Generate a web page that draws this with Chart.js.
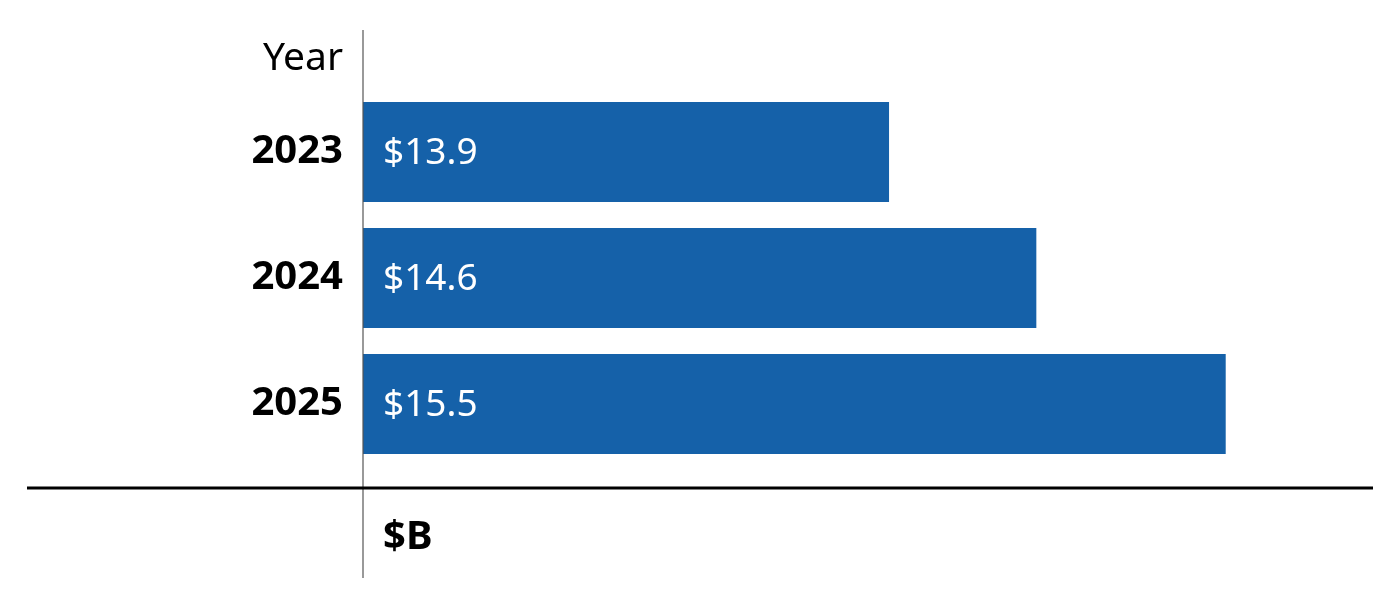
<!DOCTYPE html>
<html>
<head>
<meta charset="utf-8">
<script src="https://cdn.jsdelivr.net/npm/chart.js@4"></script>
<style>
  html, body { margin: 0; padding: 0; background: #fff; }
  #wrap { width: 1400px; height: 605px; }
</style>
</head>
<body>
<div id="wrap"><canvas id="c" width="1400" height="605"></canvas></div>
<script>
const categories = ["2023", "2024", "2025"];
const values = [13.9, 14.6, 15.5];
const valueLabels = ["$13.9", "$14.6", "$15.5"];
const axisTitleY = "Year";
const unitLabel = "$B";

const FONT = "'Source Sans Pro', 'Noto Sans', 'Open Sans', sans-serif";
const BAR_COLOR = "#1561a9";

const decor = {
  id: "decor",
  afterDraw(chart) {
    const ctx = chart.ctx;
    const area = chart.chartArea;
    const xs = chart.scales.x;
    const x0 = area.left;
    ctx.save();
    // vertical axis line
    ctx.strokeStyle = "#555";
    ctx.lineWidth = 1.2;
    ctx.beginPath();
    ctx.moveTo(x0, 30);
    ctx.lineTo(x0, 578);
    ctx.stroke();
    // horizontal rule
    ctx.strokeStyle = "#000";
    ctx.lineWidth = 3;
    ctx.beginPath();
    ctx.moveTo(27, area.bottom + 21);
    ctx.lineTo(area.right, area.bottom + 21);
    ctx.stroke();
    // Year title
    ctx.fillStyle = "#000";
    ctx.font = "400 39px " + FONT;
    ctx.textAlign = "right";
    ctx.textBaseline = "middle";
    ctx.fillText(axisTitleY, x0 - 20, 59);
    // unit label
    ctx.font = "700 40px " + FONT;
    ctx.textAlign = "left";
    ctx.fillText(unitLabel, x0 + 20, 538);
    // value labels
    const meta = chart.getDatasetMeta(0);
    ctx.fillStyle = "#fff";
    ctx.font = "400 37px " + FONT;
    meta.data.forEach((bar, i) => {
      ctx.fillText(valueLabels[i], xs.left + 20, bar.y + 1);
    });
    ctx.restore();
  }
};

new Chart(document.getElementById("c"), {
  type: "bar",
  data: {
    labels: categories,
    datasets: [{
      data: values,
      backgroundColor: BAR_COLOR,
      borderWidth: 0,
      categoryPercentage: 1,
      barPercentage: 0.794
    }]
  },
  options: {
    indexAxis: "y",
    responsive: false,
    animation: false,
    layout: { padding: { left: 0, right: 27, top: 89, bottom: 138 } },
    plugins: { legend: { display: false }, tooltip: { enabled: false } },
    scales: {
      x: {
        display: false,
        min: 11.4,
        max: 16.2
      },
      y: {
        grid: { display: false, drawTicks: false },
        border: { display: false },
        ticks: {
          color: "#000",
          padding: 20,
          font: { family: FONT, size: 40, weight: "700" }
        },
        afterFit(scale) { scale.width = 363; }
      }
    }
  },
  plugins: [decor]
});
</script>
</body>
</html>
